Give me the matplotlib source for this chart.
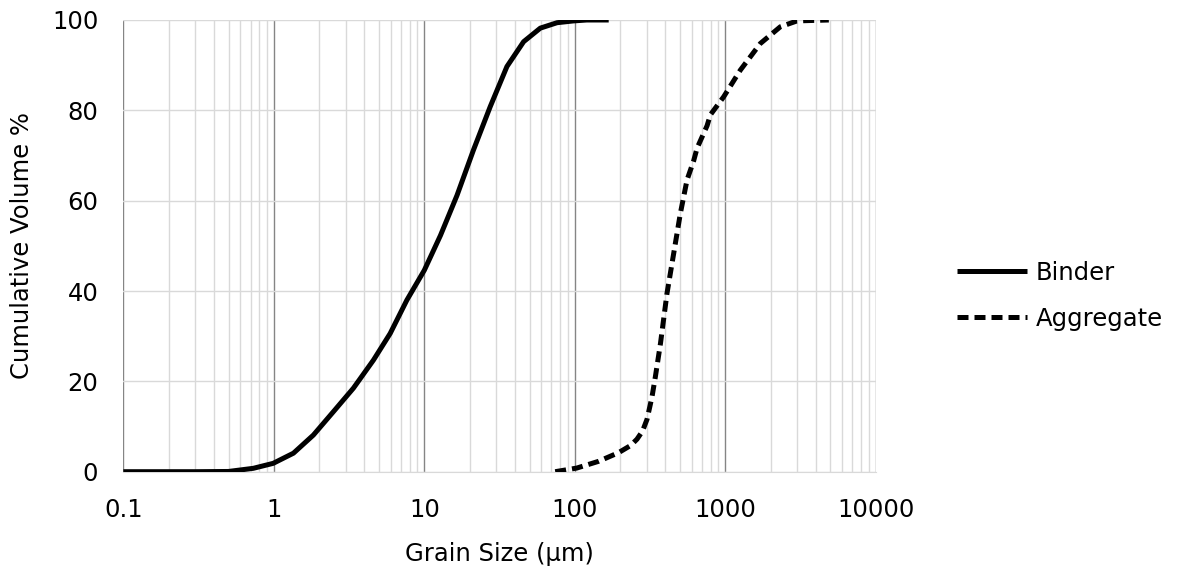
import matplotlib
matplotlib.use("Agg")
import matplotlib.pyplot as plt
from matplotlib.ticker import LogLocator, FixedLocator, NullFormatter

plt.rcParams['font.family'] = ['DejaVu Sans']

binder_size = [0.1, 0.3, 0.5, 0.731, 0.99, 1.35, 1.83, 2.49, 3.38, 4.59, 5.93, 7.66,
               10.0, 12.8, 16.5, 21.2, 27.4, 35.4, 45.7, 59.0, 76.2, 98.2, 120, 168]
binder_vol = [0.0, 0.0, 0.05, 0.75, 1.85, 4.1, 8.1, 13.3, 18.5, 24.7, 30.6, 38.0,
              44.6, 52.3, 61.2, 71.2, 80.8, 89.7, 95.2, 98.2, 99.4, 99.8, 100, 100]

agg_size = [74.1, 103, 144, 195, 235, 259, 282, 302, 326, 343, 371, 410, 454, 503, 557,
            616, 649, 757, 796, 976, 1259, 1710, 2322, 3000, 4875]
agg_vol = [0.0, 0.8, 2.3, 4.2, 5.8, 7.2, 9.0, 11.6, 16.6, 21.0, 28.4, 39.5, 48.3, 57.2,
           64.6, 68.8, 71.6, 76.6, 79.0, 83.0, 88.9, 94.8, 98.5, 99.8, 100]

x_ticks = [0.1, 1, 10, 100, 1000, 10000]
x_ticklabels = ["0.1", "1", "10", "100", "1000", "10000"]
y_ticks = [0, 20, 40, 60, 80, 100]

FS = 17.5

fig = plt.figure(figsize=(12, 5.73), dpi=100)
ax = fig.add_axes([0.1028, 0.1768, 0.6270, 0.7883])

ax.plot(binder_size, binder_vol, color='black', lw=3.6, label='Binder',
        solid_capstyle='butt', solid_joinstyle='round', zorder=3)
ax.plot(agg_size, agg_vol, color='black', lw=3.6, ls=(0, (2.2, 1.2)),
        dash_capstyle='butt', dash_joinstyle='round', label='Aggregate', zorder=3)

ax.set_xscale('log')
ax.set_xlim(0.1, 10000)
ax.set_ylim(0, 100)
ax.xaxis.set_major_locator(FixedLocator(x_ticks))
ax.set_xticklabels(x_ticklabels)
ax.xaxis.set_minor_locator(LogLocator(base=10, subs=range(2, 10), numticks=50))
ax.xaxis.set_minor_formatter(NullFormatter())
ax.set_yticks(y_ticks)

ax.grid(which='major', axis='x', color='#858585', lw=1.0, zorder=0)
ax.grid(which='minor', axis='x', color='#d9d9d9', lw=1.0, zorder=0)
ax.grid(which='major', axis='y', color='#d9d9d9', lw=1.0, zorder=0)
ax.set_axisbelow(True)
for s in ['top', 'right', 'left']:
    ax.spines[s].set_visible(False)
ax.spines['bottom'].set_color('#d9d9d9')

ax.tick_params(axis='both', which='both', length=0, labelsize=FS, colors='black')
ax.tick_params(axis='x', pad=19)
ax.tick_params(axis='y', pad=18)

ax.set_xlabel('Grain Size (µm)', fontsize=FS, labelpad=14)
ax.set_ylabel('Cumulative Volume %', fontsize=FS, labelpad=13)

leg = fig.legend(loc='center left', bbox_to_anchor=(0.779, 0.484), frameon=False,
                 fontsize=FS, handlelength=2.9, handletextpad=0.35, labelspacing=0.9)

fig.savefig('out.png', dpi=100)
